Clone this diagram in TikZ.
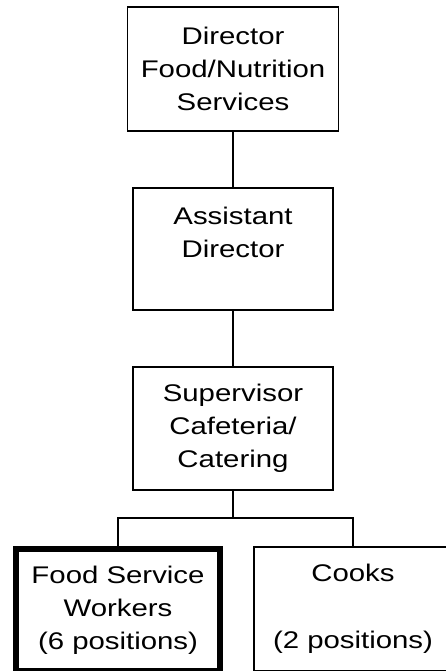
\documentclass[tikz,border=0pt]{standalone}
\usepackage{fontspec}
\setmainfont{Liberation Sans}[FakeStretch=1.22]
\usetikzlibrary{positioning}

\begin{document}
\begin{tikzpicture}[
    line width=1.1pt, node distance=1.1cm,
    box/.style={draw, align=center, inner sep=0pt,
      font=\fontsize{13.7}{18.8}\selectfont},
  ]
  \useasboundingbox (0,0) rectangle (8.92,-13.42);

  \node[box, minimum width=4.22cm, minimum height=2.48cm] (dir) at (4.66,-1.38)
    {Director\\Food/Nutrition\\Services};
  \node[box, below=of dir, minimum width=4cm, minimum height=2.44cm] (asst)
    {Assistant\\Director\\\phantom{D}};
  \node[box, below=of asst, minimum width=4cm, minimum height=2.46cm] (sup)
    {Supervisor\\Cafeteria/\\Catering};
  \draw (dir) -- (asst) (asst) -- (sup);

  % bottom row
  \node[box, below=of sup, xshift=-2.3cm, line width=3.4pt,
    minimum width=4.08cm, minimum height=2.44cm] (fsw)
    {Food Service\\Workers\\(6 positions)};
  \node[box, below=of sup, xshift=2.4cm,
    minimum width=3.96cm, minimum height=2.48cm] (cooks)
    {Cooks\\\phantom{D}\\(2 positions)};
  \draw (sup.south) -- ++(0,-0.54) coordinate (bus);
  \draw (fsw.north) |- (bus) -| (cooks.north);

\end{tikzpicture}
\end{document}
